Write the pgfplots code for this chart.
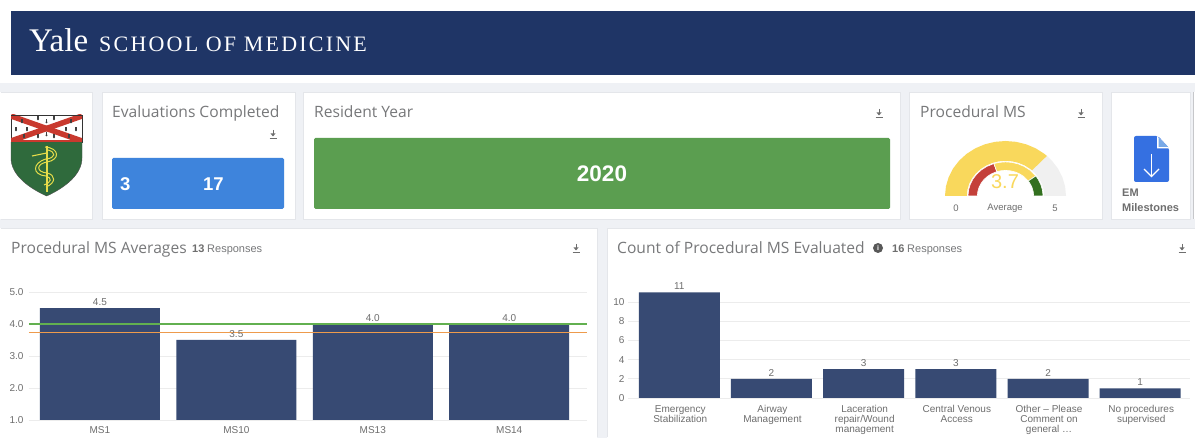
\documentclass[border=0pt]{standalone}
\usepackage{pgfplots}
\pgfplotsset{compat=1.18}
\usepackage{fontspec}
\setmainfont{Liberation Sans}
\newfontfamily\titlef{Open Sans}
\newfontfamily\yalef{Liberation Serif}
\newfontfamily\yales[LetterSpace=10]{Liberation Serif}
\definecolor{bgc}{HTML}{EFF1F5}
\definecolor{edgec}{HTML}{E4E6EA}
\definecolor{navy}{HTML}{1F3566}
\definecolor{barc}{HTML}{374A73}
\definecolor{titlec}{HTML}{77787A}
\definecolor{tickc}{HTML}{6E6E6E}
\definecolor{gridc}{HTML}{ECECEC}
\definecolor{bluec}{HTML}{3E84DC}
\definecolor{greenc}{HTML}{5B9E50}
\definecolor{yellowc}{HTML}{F9D85C}
\definecolor{redc}{HTML}{C4403A}
\definecolor{dgreen}{HTML}{33701F}
\definecolor{lgray}{HTML}{F0F0F0}
\definecolor{shgreen}{HTML}{2F6A3C}
\definecolor{shred}{HTML}{C9392E}
\definecolor{shy}{HTML}{E6DC4A}
\definecolor{linegr}{HTML}{62B050}
\definecolor{lineor}{HTML}{EE9B4C}
\newcommand\fs[1]{\fontsize{#1}{#1}\selectfont}
\newcommand\card[4]{\fill[white,draw=edgec,line width=0.8pt] (#1,#2) rectangle (#3,#4);}
\newcommand\dl[2]{%
  \begin{scope}[shift={(#1,#2)}]
    \draw[tickc,line width=0.9pt] (-3.5,4) -- (3.5,4);
    \draw[tickc,line width=1pt] (0,-4) -- (0,0);
    \fill[tickc] (-2.5,-0.5) -- (2.5,-0.5) -- (0,2.5) -- cycle;
  \end{scope}}
\newcommand\erm[2]{%
  \fill[black!75] (#1-0.6,#2-1.5) rectangle (#1+0.6,#2+1);
  \fill[black!75] (#1-1.2,#2+1) -- (#1+1.2,#2+1) -- (#1,#2+2.4) -- cycle;}
\tikzset{flip/.style={x=1pt,y=-1pt,shift={(0pt,438pt)}}}
\pgfplotsset{
  chartbase/.style={
    scale only axis,
    axis line style={draw=none},
    major tick length=0pt,
    ymajorgrids,
    grid style={gridc,line width=0.8pt},
    tick label style={font=\fs{10},text=tickc},
    /pgf/number format/assume math mode=true,
    xtick=data,
    clip=false,
  },
  barsty/.style={
    ybar, bar shift=0pt, fill=barc, draw=none,
    nodes near coords,
    every node near coord/.append style={font=\fs{10},text=tickc,yshift=-1pt},
  },
}
\begin{document}
\begin{tikzpicture}
\begin{scope}[flip]
\fill[bgc] (0,0) rectangle (1195,438);
% header
\fill[white] (0,0) rectangle (1195,83);
\fill[navy] (11,11) rectangle (1195,75);
\node[anchor=base west,inner sep=0,text=white] at (29,52) {\yalef\fs{33}Yale};
\node[anchor=base west,inner sep=0,text=white] at (99,52) {\yales\fs{22}SCHOOL OF MEDICINE};
% cards
\fill[white] (0,92) rectangle (92,219);
\draw[edgec,line width=0.8pt] (0.5,92) -- (92,92) -- (92,219) -- (0.5,219);
\card{102}{92}{295}{219}
\card{303}{92}{900}{219}
\card{909}{92}{1102}{219}
\card{1111}{92}{1190}{219}
\fill[white] (1193,92) rectangle (1195,219);
\draw[edgec!70!gray,line width=0.8pt] (1193.4,92) -- (1193.4,219);
\fill[white] (0,228) rectangle (597,438);
\draw[edgec,line width=0.8pt] (0.5,228) -- (597,228) -- (597,437.5);
\fill[white] (607,228) rectangle (1195,438);
\draw[edgec,line width=0.8pt] (607,437.5) -- (607,228) -- (1194.5,228);
% shield
\fill[white,draw=black!80,line width=0.5pt] (11,115) rectangle (82,142);
\begin{scope}
  \clip (11,115) rectangle (82,142);
  \draw[shred,line width=5.5pt] (11,116) -- (82,141);
  \draw[shred,line width=5.5pt] (82,116) -- (11,141);
\end{scope}
\draw[black!80,line width=0.9pt] (11,115) -- (82,115);
\erm{38}{118}\erm{46.5}{121}\erm{54}{118}\erm{22}{121}\erm{71}{121}
\erm{16}{129}\erm{27}{129}\erm{66}{129}\erm{76}{129}
\erm{38}{136}\erm{46.5}{134}\erm{54}{136}\erm{24}{136}\erm{69}{136}
\fill[shgreen,draw=black!70,line width=0.4pt] (11,142) -- (82,142) -- (82,158)
  .. controls (82,176) and (62,189) .. (46.7,196)
  .. controls (31,189) and (11,176) .. (11,158) -- cycle;
\fill[shred] (11,140.5) rectangle (82,142);
\draw[shy,line width=1.6pt] (46.7,146) -- (46.7,192);
\draw[shy,line width=1.1pt] (32,156) -- (46.7,153);
\draw[shy,line width=1pt] (45,147) .. controls (60,148) and (60,160) .. (47,162)
  .. controls (36,164) and (36,172) .. (47,173)
  .. controls (56,175) and (56,183) .. (46,187);
\draw[shy,line width=1pt] (48,150) .. controls (56,152) and (56,158) .. (46,159)
  .. controls (32,163) and (32,175) .. (46,176)
  .. controls (52,178) and (52,182) .. (44,185);
% top cards text
\node[anchor=base west,inner sep=0,text=titlec] at (112,118) {\titlef\fs{15.6}Evaluations Completed};
\dl{273}{134}
\fill[bluec,rounded corners=1.5pt] (112,158) rectangle (284,209);
\node[anchor=base west,inner sep=0,text=white] at (120,191) {\fs{18.5}\bfseries 3};
\node[anchor=base west,inner sep=0,text=white] at (203,191) {\fs{18.5}\bfseries 17};
\node[anchor=base west,inner sep=0,text=titlec] at (314,118) {\titlef\fs{15.6}Resident Year};
\dl{879}{113}
\fill[greenc,rounded corners=1.5pt] (314,138) rectangle (890,209);
\node[inner sep=0,text=white] at (602,174) {\fs{22.5}\bfseries 2020};
\node[anchor=base west,inner sep=0,text=titlec] at (920,118) {\titlef\fs{15.6}Procedural MS};
\dl{1081}{113}
\end{scope}
% gauge
\begin{axis}[at={(945pt,242pt)},anchor=south west,scale only axis,width=121pt,height=55pt,
  hide axis,xmin=-1,xmax=1,ymin=0,ymax=1,clip=false]
\addplot[fill=lgray,draw=none,data cs=polar] coordinates {(46.8,1)(40,1)(30,1)(20,1)(10,1)(0,1)(0,0.64)(10,0.64)(20,0.64)(30,0.64)(40,0.64)(46.8,0.64)} -- cycle;
\addplot[fill=yellowc,draw=none,data cs=polar] coordinates {(180,1)(170,1)(160,1)(150,1)(140,1)(130,1)(120,1)(110,1)(100,1)(90,1)(80,1)(70,1)(60,1)(50,1)(46.8,1)(46.8,0.64)(50,0.64)(60,0.64)(70,0.64)(80,0.64)(90,0.64)(100,0.64)(110,0.64)(120,0.64)(130,0.64)(140,0.64)(150,0.64)(160,0.64)(170,0.64)(180,0.64)} -- cycle;
\addplot[fill=redc,draw=white,line width=0.6pt,data cs=polar] coordinates {(180,0.62)(170,0.62)(160,0.62)(150,0.62)(140,0.62)(130,0.62)(120,0.62)(108,0.62)(108,0.465)(120,0.465)(130,0.465)(140,0.465)(150,0.465)(160,0.465)(170,0.465)(180,0.465)} -- cycle;
\addplot[fill=yellowc,draw=white,line width=0.6pt,data cs=polar] coordinates {(108,0.62)(100,0.62)(90,0.62)(80,0.62)(70,0.62)(60,0.62)(50,0.62)(36,0.62)(36,0.465)(50,0.465)(60,0.465)(70,0.465)(80,0.465)(90,0.465)(100,0.465)(108,0.465)} -- cycle;
\addplot[fill=dgreen,draw=white,line width=0.6pt,data cs=polar] coordinates {(36,0.62)(30,0.62)(20,0.62)(10,0.62)(0,0.62)(0,0.465)(10,0.465)(20,0.465)(30,0.465)(36,0.465)} -- cycle;
\end{axis}
\begin{scope}[flip]
\node[inner sep=0,text=yellowc] at (1005,182) {\fs{20}3.7};
\node[inner sep=0,text=tickc] at (956,208) {\fs{9.5}0};
\node[inner sep=0,text=tickc] at (1005,208) {\fs{9.5}Average};
\node[inner sep=0,text=tickc] at (1055,208) {\fs{9.5}5};
% file icon
\fill[bluec!85!blue,rounded corners=2pt] (1134,136) -- (1158,136) -- (1169,148) -- (1169,182) -- (1134,182) -- cycle;
\fill[white] (1157,136) -- (1157,148.5) -- (1169,148.5) -- cycle;
\fill[bluec!70!white] (1158.5,137.5) -- (1158.5,147) -- (1168,147) -- cycle;
\draw[white,line width=1.3pt] (1151.5,154) -- (1151.5,176);
\draw[white,line width=1.3pt] (1144,169) -- (1151.5,176.5) -- (1159,169);
\node[anchor=base west,inner sep=0,text=tickc] at (1122,197) {\fs{11}\bfseries EM};
\node[anchor=base west,inner sep=0,text=tickc] at (1122,212) {\fs{11}\bfseries Milestones};
% bottom titles
\node[anchor=base west,inner sep=0,text=titlec] at (11,254) {\titlef\fs{15.6}Procedural MS Averages};
\node[anchor=base west,inner sep=0,text=tickc] at (192,253) {\fs{11}\bfseries 13};
\node[anchor=base west,inner sep=0,text=titlec] at (207,253) {\fs{11}Responses};
\dl{576}{248}
\node[anchor=base west,inner sep=0,text=titlec] at (617,254) {\titlef\fs{15.6}Count of Procedural MS Evaluated};
\fill[tickc!80!black] (878,248) circle (5);
\node[inner sep=0,text=white] at (878,248) {\fs{7}\bfseries i};
\node[anchor=base west,inner sep=0,text=tickc] at (892,253) {\fs{11}\bfseries 16};
\node[anchor=base west,inner sep=0,text=titlec] at (907,253) {\fs{11}Responses};
\dl{1182}{248}
\end{scope}
% left chart
\begin{axis}[chartbase,at={(29pt,18pt)},anchor=south west,width=558pt,height=128pt,
  xmin=-0.52,xmax=3.57,ymin=1,ymax=5,ytick={1,2,3,4,5},
  xticklabels={MS1,MS10,MS13,MS14},
  yticklabel style={xshift=-2pt,/pgf/number format/fixed,/pgf/number format/fixed zerofill,/pgf/number format/precision=1},
  xticklabel style={yshift=-3pt}]
\addplot[barsty,bar width=120pt,
  nodes near coords style={/pgf/number format/fixed,/pgf/number format/fixed zerofill,/pgf/number format/precision=1,/pgf/number format/assume math mode=true}]
  coordinates {(0,4.5)(1,3.5)(2,4.0)(3,4.0)};
\addplot[color=linegr,line width=1.1pt,forget plot] coordinates {(-0.52,4)(3.57,4)};
\addplot[color=lineor,line width=1.1pt,forget plot] coordinates {(-0.52,3.74)(3.57,3.74)};
\end{axis}
% right chart
\begin{axis}[chartbase,at={(628pt,40pt)},anchor=south west,width=562pt,height=105.6pt,
  xmin=-0.556,xmax=5.54,ymin=0,ymax=11,ytick={0,2,4,6,8,10},
  xticklabels={{Emergency\\Stabilization},{Airway\\Management},{Laceration\\repair/Wound\\management},{Central Venous\\Access},{Other -- Please\\Comment on\\general \ldots},{No procedures\\supervised}},
  xticklabel style={align=center,font=\fontsize{10}{10}\selectfont,yshift=-4pt,xshift=1pt,anchor=north}]
\addplot[barsty,bar width=81pt,
  nodes near coords style={/pgf/number format/assume math mode=true}]
  coordinates {(0,11)(1,2)(2,3)(3,3)(4,2)(5,1)};
\end{axis}
\end{tikzpicture}
\end{document}
